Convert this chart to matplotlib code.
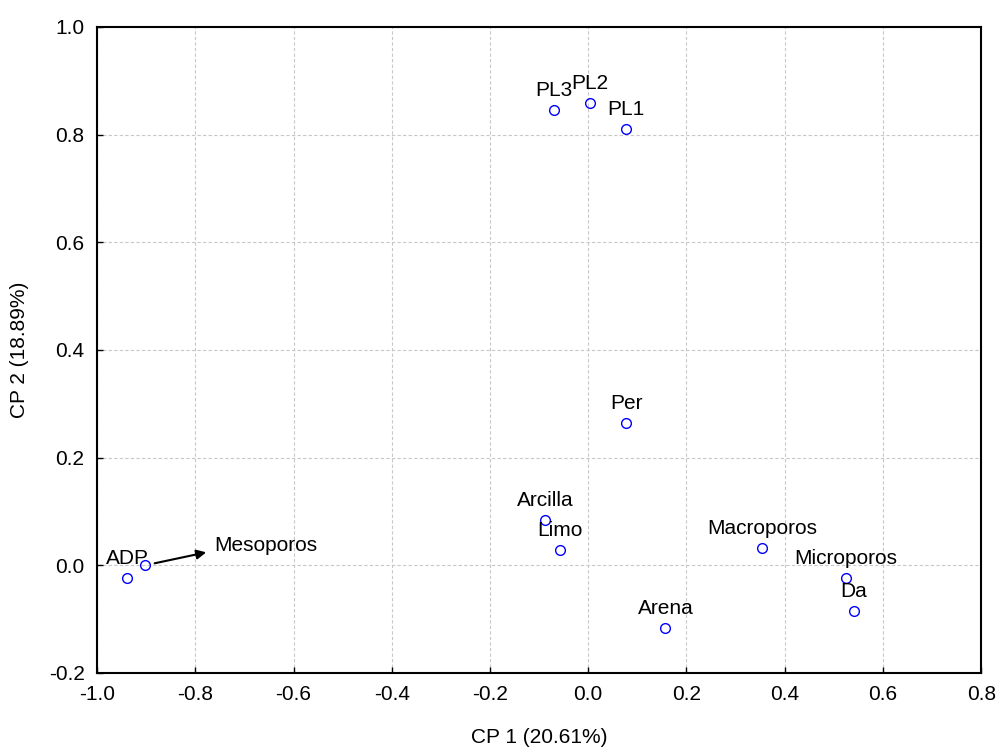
import matplotlib
matplotlib.use("Agg")
import matplotlib.pyplot as plt

plt.rcParams['font.family'] = ['Liberation Sans', 'DejaVu Sans']

# loadings on the first two principal components
names = ["ADP", "Mesoporos", "PL3", "PL2", "PL1", "Per", "Arcilla", "Limo",
         "Macroporos", "Microporos", "Da", "Arena"]
cp1 = [-0.939, -0.902, -0.069, 0.004, 0.077, 0.077, -0.088, -0.057,
       0.354, 0.525, 0.540, 0.157]
cp2 = [-0.024, 0.000, 0.846, 0.859, 0.811, 0.265, 0.085, 0.028,
       0.032, -0.024, -0.085, -0.117]

xticks = [-1.0, -0.8, -0.6, -0.4, -0.2, 0.0, 0.2, 0.4, 0.6, 0.8]
yticks = [-0.2, 0.0, 0.2, 0.4, 0.6, 0.8, 1.0]

fig = plt.figure(figsize=(9.98, 7.49), dpi=100)
ax = fig.add_axes([0.0972, 0.1015, 0.886, 0.8625])

ax.plot(cp1, cp2, linestyle="none", marker="o", markersize=7,
        markerfacecolor="none", markeredgecolor="#0000ff", markeredgewidth=1,
        zorder=3)

for name, x, y in zip(names, cp1, cp2):
    if name == "Mesoporos":
        # label moved off the crowded spot, arrow points from the marker to the text
        ax.annotate(name, xy=(x, y), xytext=(87, 14), textcoords="offset points",
                    fontsize=15, ha="center", va="center",
                    arrowprops=dict(arrowstyle="<|-", color="black", lw=1.5,
                                    relpos=(0, 0.25), shrinkA=4, shrinkB=7,
                                    mutation_scale=14))
    else:
        ax.annotate(name, xy=(x, y), xytext=(0, 14), textcoords="offset points",
                    fontsize=15, ha="center", va="center")

ax.set_xlim(-1.0, 0.8)
ax.set_ylim(-0.2, 1.0)
ax.set_xticks(xticks)
ax.set_yticks(yticks)
ax.set_xticklabels([f"{t:.1f}" for t in xticks])
ax.set_yticklabels([f"{t:.1f}" for t in yticks])
ax.tick_params(direction="in", length=4, width=1, labelsize=15, pad=9)
ax.grid(True, color="#c8c8c8", linestyle=(0, (3, 2)), linewidth=0.8)
ax.set_axisbelow(True)
for s in ax.spines.values():
    s.set_linewidth(1.5)

ax.set_xlabel("CP 1 (20.61%)", fontsize=15, labelpad=17)
ax.set_ylabel("CP 2 (18.89%)", fontsize=15, labelpad=14)

fig.savefig("out.png", dpi=100)
